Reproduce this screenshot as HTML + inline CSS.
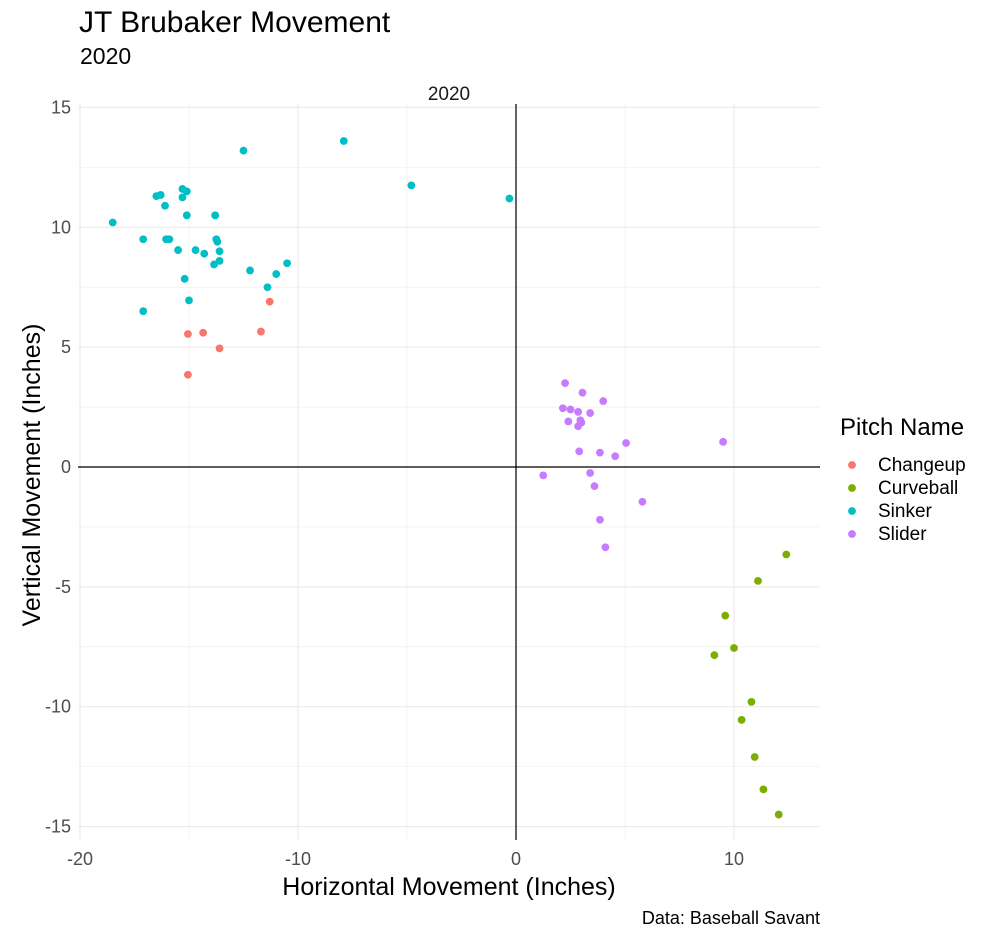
<!DOCTYPE html>
<html><head><meta charset="utf-8"><style>
body{margin:0;background:#fff;font-family:"Liberation Sans",Arial,sans-serif}
svg text{font-family:"Liberation Sans",Arial,sans-serif}
</style></head><body>
<svg id="chart" width="1000" height="931" xmlns="http://www.w3.org/2000/svg">
<text x="79" y="32" font-size="30" fill="#000">JT Brubaker Movement</text>
<text x="80" y="64" font-size="23" fill="#000">2020</text>
<text x="449" y="100" font-size="19" fill="#1a1a1a" text-anchor="middle">2020</text>
<g id="grid"></g><g id="axes"></g><g id="points"></g>
<text x="449" y="895" font-size="25" fill="#000" text-anchor="middle">Horizontal Movement (Inches)</text>
<text transform="translate(40,475) rotate(-90)" font-size="25" fill="#000" text-anchor="middle">Vertical Movement (Inches)</text>
<text x="820" y="924" font-size="18" fill="#000" text-anchor="end">Data: Baseball Savant</text>
<g id="legend">
<text x="840" y="435" font-size="24" fill="#000">Pitch Name</text>
</g>
</svg>
<script>
const pitchNames = ["Changeup","Curveball","Sinker","Slider"];
const pitchColors = ["#F8766D","#7CAE00","#00BFC4","#C77CFF"];
const xTicks = [-20,-10,0,10];
const yTicks = [-15,-10,-5,0,5,10,15];
const changeupX = [-15.05,-15.05,-14.35,-13.6,-11.7,-11.3];
const changeupY = [5.55,3.85,5.6,4.95,5.65,6.9];
const curveballX = [12.4,11.1,9.6,10.0,9.1,10.8,10.35,10.95,11.35,12.05];
const curveballY = [-3.65,-4.75,-6.2,-7.55,-7.85,-9.8,-10.55,-12.1,-13.45,-14.5];
const sinkerX = [-18.5,-17.1,-17.1,-16.5,-16.3,-16.1,-15.3,-15.1,-15.3,-15.1,-16.05,-15.9,-15.5,-15.2,-15.0,-14.7,-14.3,-13.85,-13.8,-13.75,-13.7,-13.6,-13.6,-12.5,-12.2,-11.4,-11.0,-10.5,-7.9,-4.8,-0.3];
const sinkerY = [10.2,9.5,6.5,11.3,11.35,10.9,11.6,11.5,11.25,10.5,9.5,9.5,9.05,7.85,6.95,9.05,8.9,8.45,10.5,9.5,9.4,9.0,8.6,13.2,8.2,7.5,8.05,8.5,13.6,11.75,11.2];
const sliderX = [2.25,2.15,2.5,2.4,2.85,3.05,2.95,3.0,2.85,3.4,4.0,2.9,3.85,5.05,4.55,9.5,1.25,3.4,3.6,5.8,3.85,4.1];
const sliderY = [3.5,2.45,2.4,1.9,2.3,3.1,1.95,1.85,1.7,2.25,2.75,0.65,0.6,1.0,0.45,1.05,-0.35,-0.25,-0.8,-1.45,-2.2,-3.35];

const NS="http://www.w3.org/2000/svg";
const L=78,R=820,T=104,B=840;
const xs=v=>516+v*21.8;
const ys=v=>467-v*23.97;
function mk(tag,attrs,parent){const e=document.createElementNS(NS,tag);for(const k in attrs)e.setAttribute(k,attrs[k]);parent.appendChild(e);return e;}
const grid=document.getElementById('grid'),axes=document.getElementById('axes'),pts=document.getElementById('points');
for(let v=-20;v<=13;v+=5){
  const g=mk('line',{x1:xs(v),x2:xs(v),y1:T,y2:B,stroke:'#ebebeb','stroke-width':v%10===0?1.2:0.6},grid);
  
  
}
for(let v=-15;v<=15;v+=2.5){
  const g=mk('line',{x1:L,x2:R,y1:ys(v),y2:ys(v),stroke:'#ebebeb','stroke-width':v%5===0?1.2:0.6},grid);
  
  
}
xTicks.forEach(v=>{const t=mk('text',{x:xs(v),y:865,'font-size':18,fill:'#4d4d4d','text-anchor':'middle'},axes);t.textContent=v;
  
  });
yTicks.forEach(v=>{const t=mk('text',{x:71,y:ys(v)+6,'font-size':18,fill:'#4d4d4d','text-anchor':'end'},axes);t.textContent=v;
  
  });
const h=mk('line',{x1:L,x2:R,y1:ys(0),y2:ys(0),stroke:'#000','stroke-width':1.2},axes);


const vl=mk('line',{x1:xs(0),x2:xs(0),y1:T,y2:B,stroke:'#000','stroke-width':1.2},axes);


const series=[[changeupX,changeupY],[curveballX,curveballY],[sinkerX,sinkerY],[sliderX,sliderY]];
series.forEach((s,i)=>{s[0].forEach((x,j)=>{const c=mk('circle',{cx:xs(x),cy:ys(s[1][j]),r:3.9,fill:pitchColors[i]},pts);
  
  });});
const lg=document.getElementById('legend');
pitchNames.forEach((n,i)=>{const y=465+i*23;
  const c=mk('circle',{cx:852,cy:y,r:3.9,fill:pitchColors[i]},lg);
  
  
  const t=mk('text',{x:878,y:y+6,'font-size':19,fill:'#000'},lg);t.textContent=n;
  
  });
</script>
</body></html>
